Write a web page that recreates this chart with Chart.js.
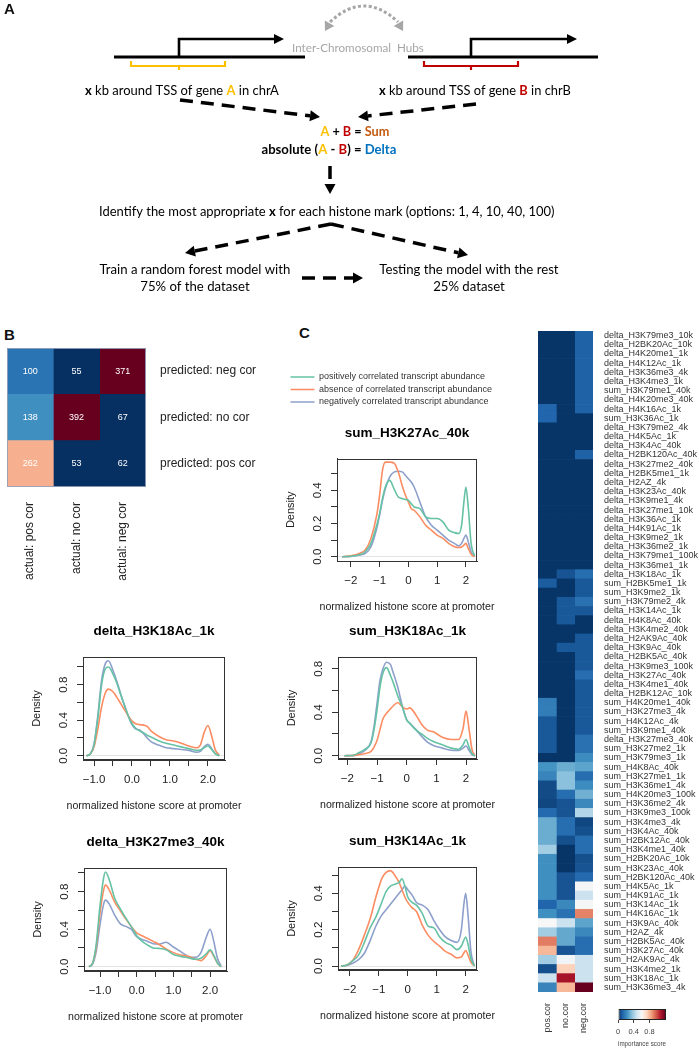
<!DOCTYPE html>
<html>
<head>
<meta charset="utf-8">
<title>Inter-chromosomal hubs - histone marks</title>
<script src="https://cdn.jsdelivr.net/npm/chart.js@4.4.1/dist/chart.umd.min.js"></script>
<style>
  body { margin: 0; background: #fff; }
  #page { position: relative; width: 699px; height: 1050px; overflow: hidden; background: #fff; }
  canvas { position: absolute; }
  .tag { position: absolute; font: bold 15px Arial, "Liberation Sans", sans-serif; color: #111; }
</style>
</head>
<body>
<div id="page">
  <canvas id="flow" width="699" height="300" style="left:0;top:0;width:699px;height:300px"></canvas>
  <div class="tag" style="left:4px;top:0px">A</div>
  <div class="tag" style="left:4px;top:326px">B</div>
  <div class="tag" style="left:299px;top:324px">C</div>
</div>
<script>
// ---------- data ----------
// confusion matrix (rows = predicted, columns = actual)
const cmPredicted = ['predicted: neg cor', 'predicted: no cor', 'predicted: pos cor'];
const cmActual = ['actual: pos cor', 'actual: no cor', 'actual: neg cor'];
const cmActualPos = [100, 138, 262];
const cmActualNo = [55, 392, 53];
const cmActualNeg = [371, 67, 62];

const legendLabels = ['positively correlated transcript abundance', 'absence of correlated transcript abundance', 'negatively correlated transcript abundance'];
const xAxisLabel = 'normalized histone score at promoter';

// delta_H3K18Ac_1k
const d1X = [-1.2,-1.1,-1.0,-0.9,-0.8,-0.7,-0.62,-0.5,-0.4,-0.3,-0.2,-0.1,0,0.1,0.2,0.3,0.4,0.5,0.7,0.9,1.1,1.3,1.5,1.7,1.8,1.9,2.0,2.1,2.2,2.3];
const d1Pos = [0,0.02,0.12,0.42,0.80,0.98,1.00,0.92,0.82,0.69,0.57,0.45,0.36,0.31,0.28,0.26,0.23,0.21,0.17,0.14,0.12,0.10,0.08,0.06,0.065,0.09,0.11,0.07,0.02,0];
const d1Abs = [0,0.02,0.10,0.30,0.55,0.71,0.75,0.72,0.66,0.59,0.52,0.45,0.39,0.36,0.35,0.345,0.33,0.28,0.22,0.18,0.165,0.14,0.11,0.09,0.12,0.26,0.34,0.22,0.06,0.01];
const d1Neg = [0,0.02,0.13,0.45,0.85,1.04,1.07,0.96,0.84,0.70,0.57,0.45,0.35,0.30,0.29,0.25,0.20,0.16,0.12,0.09,0.08,0.07,0.06,0.04,0.05,0.10,0.13,0.08,0.02,0];

// delta_H3K27me3_40k
const d2X = [-1.3,-1.2,-1.1,-1.0,-0.9,-0.85,-0.75,-0.6,-0.45,-0.3,-0.15,0,0.15,0.3,0.45,0.6,0.8,1.0,1.2,1.4,1.6,1.75,1.9,2.0,2.1,2.2,2.3];
const d2Pos = [0,0.04,0.25,0.65,0.95,1.01,0.93,0.73,0.62,0.52,0.43,0.33,0.27,0.23,0.20,0.195,0.18,0.13,0.11,0.095,0.08,0.09,0.14,0.18,0.12,0.04,0];
const d2Abs = [0,0.04,0.22,0.57,0.82,0.87,0.82,0.69,0.60,0.51,0.43,0.36,0.33,0.30,0.27,0.24,0.19,0.15,0.125,0.11,0.08,0.065,0.12,0.17,0.11,0.04,0];
const d2Neg = [0,0.03,0.17,0.45,0.67,0.71,0.67,0.55,0.46,0.43,0.40,0.32,0.29,0.27,0.245,0.24,0.26,0.21,0.16,0.11,0.10,0.15,0.32,0.40,0.27,0.09,0.01];

// sum_H3K27Ac_40k
const d3X = [-2.3,-2.0,-1.7,-1.5,-1.3,-1.1,-1.0,-0.9,-0.8,-0.65,-0.5,-0.35,-0.2,-0.1,0,0.1,0.2,0.4,0.6,0.8,1.0,1.2,1.4,1.6,1.75,1.85,1.93,2.0,2.08,2.18,2.3];
const d3Pos = [0,0.003,0.012,0.03,0.08,0.19,0.26,0.35,0.42,0.46,0.41,0.36,0.35,0.345,0.34,0.32,0.30,0.29,0.24,0.23,0.23,0.21,0.16,0.145,0.14,0.19,0.33,0.42,0.30,0.08,0.005];
const d3Abs = [0,0.005,0.02,0.04,0.11,0.25,0.37,0.52,0.57,0.57,0.565,0.51,0.42,0.37,0.33,0.29,0.28,0.24,0.19,0.16,0.13,0.11,0.08,0.06,0.055,0.058,0.07,0.08,0.05,0.015,0];
const d3Neg = [0,0.002,0.01,0.02,0.06,0.17,0.25,0.34,0.41,0.48,0.51,0.515,0.51,0.49,0.47,0.45,0.42,0.33,0.24,0.19,0.16,0.13,0.10,0.08,0.065,0.08,0.11,0.13,0.09,0.03,0];

// sum_H3K18Ac_1k
const d4X = [-2.1,-1.8,-1.6,-1.4,-1.2,-1.1,-1.0,-0.9,-0.8,-0.68,-0.55,-0.45,-0.3,-0.15,0,0.1,0.3,0.5,0.7,0.9,1.2,1.5,1.75,1.9,2.0,2.1,2.2,2.3];
const d4Pos = [0,0.005,0.03,0.06,0.12,0.24,0.42,0.63,0.76,0.81,0.74,0.67,0.55,0.45,0.33,0.30,0.24,0.20,0.16,0.13,0.10,0.07,0.06,0.10,0.15,0.08,0.02,0];
const d4Abs = [0,0.003,0.01,0.02,0.04,0.08,0.14,0.24,0.34,0.39,0.43,0.46,0.49,0.45,0.43,0.44,0.38,0.29,0.235,0.22,0.17,0.15,0.15,0.25,0.41,0.25,0.06,0];
const d4Neg = [0,0,0.02,0.05,0.13,0.27,0.48,0.69,0.80,0.86,0.84,0.76,0.63,0.46,0.33,0.30,0.245,0.18,0.125,0.095,0.07,0.05,0.048,0.07,0.09,0.05,0.01,0];

// sum_H3K14Ac_1k
const d5X = [-2.3,-2.1,-1.9,-1.7,-1.5,-1.3,-1.1,-0.9,-0.75,-0.6,-0.45,-0.3,-0.2,-0.1,0,0.15,0.3,0.5,0.7,0.9,1.1,1.3,1.5,1.7,1.85,1.93,2.0,2.08,2.18,2.3];
const d5Pos = [0,0.005,0.03,0.06,0.13,0.21,0.27,0.35,0.41,0.44,0.45,0.46,0.48,0.44,0.38,0.35,0.335,0.29,0.22,0.21,0.16,0.13,0.115,0.09,0.11,0.14,0.16,0.12,0.04,0];
const d5Abs = [0,0.005,0.03,0.09,0.17,0.26,0.38,0.48,0.515,0.525,0.50,0.46,0.42,0.38,0.35,0.32,0.30,0.225,0.17,0.135,0.11,0.08,0.065,0.045,0.05,0.07,0.085,0.06,0.02,0];
const d5Neg = [0,0.003,0.015,0.035,0.07,0.14,0.22,0.28,0.31,0.34,0.37,0.40,0.42,0.44,0.42,0.39,0.35,0.335,0.31,0.25,0.20,0.16,0.14,0.13,0.2,0.33,0.40,0.28,0.08,0];

// tick labels
const bXTicks = [-1, -0.5, 0, 0.5, 1, 1.5, 2];
const bXLabels = ['\u22121.0', '', '0.0', '', '1.0', '', '2.0'];
const cXTicks = [-2, -1, 0, 1, 2];
const cXLabels = ['\u22122', '\u22121', '0', '1', '2'];
const yTicksBig = [0, 0.2, 0.4, 0.6, 0.8, 1.0];
const yLabelsBig = ['0.0', '', '0.4', '', '0.8', ''];
const yTicksSmall = [0, 0.1, 0.2, 0.3, 0.4, 0.5];
const yLabelsSmall = ['0.0', '', '0.2', '', '0.4', ''];

// importance heatmap
const hmCols = ['pos.cor', 'no.cor', 'neg.cor'];
const hmRows = [
  'delta_H3K79me3_10k','delta_H2BK20Ac_10k','delta_H4K20me1_1k','delta_H4K12Ac_1k','delta_H3K36me3_4k','delta_H3K4me3_1k',
  'sum_H3K79me1_40k','delta_H4K20me3_40k','delta_H4K16Ac_1k','sum_H3K36Ac_1k','delta_H3K79me2_4k','delta_H4K5Ac_1k',
  'delta_H3K4Ac_40k','delta_H2BK120Ac_40k','delta_H3K27me2_40k','delta_H2BK5me1_1k','delta_H2AZ_4k','delta_H3K23Ac_40k',
  'delta_H3K9me1_4k','delta_H3K27me1_10k','delta_H3K36Ac_1k','delta_H4K91Ac_1k','delta_H3K9me2_1k','delta_H3K36me2_1k',
  'delta_H3K79me1_100k','delta_H3K36me1_1k','delta_H3K18Ac_1k','sum_H2BK5me1_1k','sum_H3K9me2_1k','sum_H3K79me2_4k',
  'delta_H3K14Ac_1k','delta_H4K8Ac_40k','delta_H3K4me2_40k','delta_H2AK9Ac_40k','delta_H3K9Ac_40k','delta_H2BK5Ac_40k',
  'delta_H3K9me3_100k','delta_H3K27Ac_40k','delta_H3K4me1_40k','delta_H2BK12Ac_10k','sum_H4K20me1_40k','sum_H3K27me3_4k',
  'sum_H4K12Ac_4k','sum_H3K9me1_40k','delta_H3K27me3_40k','sum_H3K27me2_1k','sum_H3K79me3_1k','sum_H4K8Ac_40k',
  'sum_H3K27me1_1k','sum_H3K36me1_4k','sum_H4K20me3_100k','sum_H3K36me2_4k','sum_H3K9me3_100k','sum_H3K4me3_4k',
  'sum_H3K4Ac_40k','sum_H2BK12Ac_40k','sum_H3K4me1_40k','sum_H2BK20Ac_10k','sum_H3K23Ac_40k','sum_H2BK120Ac_40k',
  'sum_H4K5Ac_1k','sum_H4K91Ac_1k','sum_H3K14Ac_1k','sum_H4K16Ac_1k','sum_H3K9Ac_40k','sum_H2AZ_4k',
  'sum_H2BK5Ac_40k','sum_H3K27Ac_40k','sum_H2AK9Ac_4k','sum_H3K4me2_1k','sum_H3K18Ac_1k','sum_H3K36me3_4k'
];
const hmPos = [
  0.01,0.01,0.01,0.01,0.01,0.01,0.01,0.01,
  0.12,0.12,0.01,0.01,0.01,0.01,0.01,0.01,
  0.01,0.01,0.01,0.01,0.01,0.01,0.01,0.01,
  0.01,0.01,0.01,0.10,0.01,0.01,0.01,0.01,
  0.01,0.01,0.01,0.01,0.01,0.01,0.01,0.01,
  0.18,0.18,0.09,0.09,0.09,0.09,0.01,0.24,
  0.20,0.06,0.06,0.05,0.13,0.30,0.30,0.30,
  0.39,0.23,0.23,0.23,0.23,0.23,0.12,0.23,
  0.60,0.39,0.91,0.80,0.39,0.07,0.47,0.20
];
const hmNo = [
  0.01,0.01,0.01,0.01,0.01,0.01,0.01,0.01,
  0.01,0.01,0.01,0.01,0.01,0.01,0.01,0.01,
  0.01,0.01,0.01,0.01,0.01,0.01,0.01,0.01,
  0.01,0.01,0.08,0.01,0.01,0.09,0.09,0.09,
  0.01,0.01,0.09,0.01,0.01,0.01,0.01,0.01,
  0.01,0.01,0.01,0.01,0.01,0.01,0.01,0.30,
  0.35,0.35,0.14,0.08,0.08,0.14,0.14,0.07,
  0.01,0.01,0.01,0.08,0.08,0.08,0.21,0.15,
  0.47,0.29,0.29,0.08,0.58,0.74,1.10,0.80
];
const hmNeg = [
  0.11,0.11,0.11,0.11,0.11,0.11,0.11,0.11,
  0.11,0.01,0.01,0.01,0.01,0.11,0.01,0.01,
  0.01,0.01,0.01,0.01,0.01,0.01,0.01,0.01,
  0.01,0.01,0.14,0.09,0.09,0.15,0.09,0.01,
  0.01,0.09,0.09,0.09,0.09,0.14,0.09,0.09,
  0.09,0.09,0.09,0.09,0.15,0.15,0.22,0.28,
  0.14,0.22,0.31,0.21,0.42,0.05,0.07,0.14,
  0.14,0.07,0.08,0.13,0.59,0.47,0.59,0.90,
  0.28,0.21,0.14,0.14,0.47,0.47,0.47,1.20
];
const importanceMax = 1.2;
const barTicks = [0, 0.4, 0.8];
const barLabels = ['0', '0.4', '0.8'];

// ---------- helpers ----------
const RDBU = ['#053061','#2166ac','#4393c3','#92c5de','#d1e5f0','#f7f7f7','#fddbc7','#f4a582','#d6604d','#b2182b','#67001f'];
function hexRgb(h) { return [1, 3, 5].map(i => parseInt(h.slice(i, i + 2), 16)); }
function rdbu(t) {
  t = Math.max(0, Math.min(1, t));
  const p = t * (RDBU.length - 1);
  const i = Math.min(Math.floor(p), RDBU.length - 2);
  const f = p - i;
  const a = hexRgb(RDBU[i]), b = hexRgb(RDBU[i + 1]);
  return 'rgb(' + a.map((v, k) => Math.round(v + (b[k] - v) * f)).join(',') + ')';
}
// count -> colour position for the confusion matrix
const cmStopsV = [70, 100, 138, 262, 371];
const cmStopsT = [0, 0.13, 0.19, 0.68, 1.0];
function cmColor(v) {
  if (v <= cmStopsV[0]) return rdbu(0);
  for (let i = 1; i < cmStopsV.length; i++) {
    if (v <= cmStopsV[i]) {
      const f = (v - cmStopsV[i - 1]) / (cmStopsV[i] - cmStopsV[i - 1]);
      return rdbu(cmStopsT[i - 1] + f * (cmStopsT[i] - cmStopsT[i - 1]));
    }
  }
  return rdbu(1);
}

function makeCanvas(left, top, w, h) {
  const cv = document.createElement('canvas');
  cv.width = w; cv.height = h;
  cv.style.left = left + 'px'; cv.style.top = top + 'px';
  cv.style.width = w + 'px'; cv.style.height = h + 'px';
  document.getElementById('page').appendChild(cv);
  return cv;
}
function framePlugin(color) {
  return {
    id: 'frame',
    afterDraw(chart) {
      const a = chart.chartArea, c = chart.ctx;
      c.save();
      c.strokeStyle = color; c.lineWidth = 1;
      c.strokeRect(Math.round(a.left) + 0.5, Math.round(a.top) + 0.5, Math.round(a.right - a.left) - 1, Math.round(a.bottom - a.top) - 1);
      c.restore();
    }
  };
}
// R-style x label, allowed to run wider than the plot box
const xLabelPlugin = {
  id: 'xLabel',
  afterDraw(chart) {
    const a = chart.chartArea, c = chart.ctx;
    c.save();
    c.font = '10.6px Arial, "Liberation Sans", sans-serif';
    c.fillStyle = '#222'; c.textAlign = 'center'; c.textBaseline = 'middle';
    c.fillText(xAxisLabel, (a.left + a.right) / 2, a.bottom + 46);
    c.restore();
  }
};
// side label axes: no extra vertical room for the end labels
function fixedWidth(w) {
  return s => { s.width = w; s.paddingTop = 0; s.paddingBottom = 0; };
}

Chart.defaults.font.family = 'Arial, "Liberation Sans", Helvetica, sans-serif';
Chart.defaults.color = '#222';
Chart.defaults.animation = false;

// ---------- panel A : workflow ----------
(function drawFlow() {
  const c = document.getElementById('flow').getContext('2d');
  const F = 'Lato, "Open Sans", sans-serif';
  function head(x, y, a, len, hw, col) {
    c.save(); c.translate(x, y); c.rotate(a); c.fillStyle = col;
    c.beginPath(); c.moveTo(0, 0); c.lineTo(-len, -hw); c.lineTo(-len, hw); c.closePath(); c.fill(); c.restore();
  }
  function dashArrow(x1, y1, x2, y2) {
    const a = Math.atan2(y2 - y1, x2 - x1), hl = 10;
    c.save(); c.strokeStyle = '#000'; c.lineWidth = 3.5; c.setLineDash([13, 8]);
    c.beginPath(); c.moveTo(x1, y1); c.lineTo(x2 - hl * Math.cos(a), y2 - hl * Math.sin(a)); c.stroke(); c.restore();
    head(x2, y2, a, hl, 5.5, '#000');
  }
  function bracket(x1, x2, xm, col) {
    c.save(); c.strokeStyle = col; c.lineWidth = 2.2;
    c.beginPath(); c.moveTo(x1, 61); c.lineTo(x1, 66); c.lineTo(x2, 66); c.lineTo(x2, 61);
    c.moveTo(xm, 66); c.lineTo(xm, 70); c.stroke(); c.restore();
  }
  function rich(segs, cx, cy, width, size) {
    let total = 0;
    segs.forEach(s => { c.font = (s.b ? 'bold ' : '') + '20px ' + F; total += c.measureText(s.t).width; });
    const px = size || 20 * width / total;
    const w = total * px / 20;
    let x = cx - w / 2;
    c.textBaseline = 'middle'; c.textAlign = 'left';
    segs.forEach(s => {
      c.font = (s.b ? 'bold ' : '') + px + 'px ' + F;
      c.fillStyle = s.c || '#000';
      c.fillText(s.t, x, cy);
      x += c.measureText(s.t).width;
    });
    return px;
  }
  // chromosomes
  c.strokeStyle = '#000'; c.lineWidth = 3;
  c.beginPath(); c.moveTo(114, 57); c.lineTo(305, 57); c.moveTo(408, 57); c.lineTo(598, 57); c.stroke();
  // TSS arrows
  c.lineWidth = 2.6;
  c.beginPath(); c.moveTo(179, 57); c.lineTo(179, 39); c.lineTo(275, 39);
  c.moveTo(471, 57); c.lineTo(471, 39); c.lineTo(568, 39); c.stroke();
  head(284, 39, 0, 10, 5, '#000');
  head(577, 39, 0, 10, 5, '#000');
  bracket(131, 225, 179, '#ffc000');
  bracket(424, 518, 471, '#c00000');
  // hub arrow
  c.save(); c.strokeStyle = '#a6a6a6'; c.lineWidth = 3; c.setLineDash([3, 2.4]);
  c.beginPath(); c.moveTo(330, 22); c.quadraticCurveTo(364, -10, 398, 22); c.stroke(); c.restore();
  head(325, 31, 2.1, 9, 5.5, '#a6a6a6');
  head(403, 31, 1.04, 9, 5.5, '#a6a6a6');
  rich([{ t: 'Inter-Chromosomal  Hubs', c: '#a6a6a6' }], 358, 48, 132);
  rich([{ t: 'x', b: 1 }, { t: ' kb around TSS of gene ' }, { t: 'A', b: 1, c: '#ffc000' }, { t: ' in chrA' }], 182, 91, 194);
  rich([{ t: 'x', b: 1 }, { t: ' kb around TSS of gene ' }, { t: 'B', b: 1, c: '#c00000' }, { t: ' in chrB' }], 475, 91, 192);
  dashArrow(180, 100, 320, 117);
  dashArrow(476, 104, 358, 117);
  rich([{ t: 'A', b: 1, c: '#ffc000' }, { t: ' + ', b: 1 }, { t: 'B', b: 1, c: '#c00000' }, { t: ' = ', b: 1 }, { t: 'Sum', b: 1, c: '#c55a11' }], 355, 132, 69);
  rich([{ t: 'absolute (', b: 1 }, { t: 'A', b: 1, c: '#ffc000' }, { t: ' - ', b: 1 }, { t: 'B', b: 1, c: '#c00000' }, { t: ') = ', b: 1 }, { t: 'Delta', b: 1, c: '#0070c0' }], 329, 150, 135);
  dashArrow(330, 166, 330, 194);
  rich([{ t: 'Identify the most appropriate ' }, { t: 'x', b: 1 }, { t: ' for each histone mark (options: 1, 4, 10, 40, 100)' }], 327, 212, 456);
  dashArrow(331, 224, 185, 253);
  dashArrow(331, 224, 468, 255);
  const s1 = rich([{ t: 'Train a random forest model with' }], 195, 270, 191);
  rich([{ t: '75% of the dataset' }], 195, 287, 0, s1);
  dashArrow(302, 278, 363, 278);
  rich([{ t: 'Testing the model with the rest' }], 469, 270, 0, s1);
  rich([{ t: '25% dataset' }], 469, 287, 0, s1);
})();

// ---------- panel B : confusion matrix ----------
const cmCounts = [cmActualPos, cmActualNo, cmActualNeg];
const cellText = {
  id: 'cellText',
  afterDatasetsDraw(chart) {
    const c = chart.ctx;
    c.save();
    c.font = '9px Arial, "Liberation Sans", sans-serif';
    c.fillStyle = '#fff'; c.textAlign = 'center'; c.textBaseline = 'middle';
    chart.data.datasets.forEach((ds, j) => {
      chart.getDatasetMeta(j).data.forEach((bar, i) => {
        c.fillText(String(cmCounts[j][i]), (bar.x + bar.base) / 2, bar.y);
      });
    });
    c.restore();
  }
};
new Chart(makeCanvas(0, 340, 280, 247), {
  type: 'bar',
  data: {
    labels: cmPredicted,
    datasets: cmCounts.map((counts, j) => ({
      label: cmActual[j],
      data: counts.map(() => 1),
      backgroundColor: counts.map(cmColor),
      borderWidth: 0, barPercentage: 1, categoryPercentage: 1
    }))
  },
  options: {
    indexAxis: 'y', responsive: false, events: [],
    layout: { padding: { left: 7, top: 8, right: 0, bottom: 0 } },
    scales: {
      x: {
        type: 'linear', stacked: true, min: 0, max: 3, position: 'bottom',
        afterFit: s => { s.height = 100; },
        afterBuildTicks: s => { s.ticks = cmActual.map((_, j) => ({ value: j + 0.5 })); },
        ticks: { autoSkip: false, minRotation: 90, maxRotation: 90, padding: 15, font: { size: 12 }, color: '#222', callback: v => cmActual[Math.floor(v)] },
        grid: { display: false, drawTicks: false }, border: { display: false }
      },
      y: {
        stacked: true, position: 'right',
        afterFit: fixedWidth(134),
        ticks: { padding: 14, font: { size: 12 }, color: '#222' },
        grid: { display: false, drawTicks: false }, border: { display: false }
      }
    },
    plugins: { legend: { display: false }, tooltip: { enabled: false } }
  },
  plugins: [cellText, framePlugin('rgba(150,160,185,0.9)')]
});

// ---------- density plots ----------
function densityPlot(cfg) {
  const [l, t, r, b] = cfg.box;
  const hasLegend = !!cfg.legend;
  const padLeft = hasLegend ? 12 : 0;
  const rightRoom = 28;
  const left = l - 62;
  const top = hasLegend ? 360 : t - 38;
  const cv = makeCanvas(left, top, r - left + rightRoom, b - top + 60);
  const series = [[cfg.pos, '#66c2a5'], [cfg.abs, '#fc8d62'], [cfg.neg, '#8da0cb']];
  const scales = {
    x: {
      type: 'linear', min: cfg.xr[0], max: cfg.xr[1],
      afterFit: s => { s.height = 60; },
      afterBuildTicks: s => { s.ticks = cfg.xTicks.map(v => ({ value: v })); },
      ticks: { autoSkip: false, maxRotation: 0, padding: 7, font: { size: 11.5 }, color: '#222', callback: (v, i) => cfg.xLabels[i] },
      grid: { drawOnChartArea: false, tickColor: '#333', tickLength: 6 },
      border: { color: '#333' }
    },
    y: {
      type: 'linear', min: cfg.yr[0], max: cfg.yr[1],
      afterFit: s => { s.width = 62 - padLeft; },
      afterBuildTicks: s => { s.ticks = cfg.yTicks.map(v => ({ value: v })); },
      ticks: { autoSkip: false, minRotation: 90, maxRotation: 90, crossAlign: 'center', padding: 5.5, font: { size: 11.5 }, color: '#222', callback: (v, i) => cfg.yLabels[i] },
      grid: { drawOnChartArea: true, color: c => (c.tick && c.tick.value === 0 ? '#e4e4e4' : 'rgba(0,0,0,0)'), tickColor: '#333', tickLength: 6 },
      border: { color: '#333' },
      title: { display: true, text: 'Density', font: { size: 11 }, color: '#222', padding: { top: 9.4 - padLeft, bottom: 0 } }
    }
  };
  if (hasLegend) {
    // empty right-hand spacer so the full-width legend can run past the plot box
    scales.spacer = {
      type: 'linear', axis: 'y', position: 'right', display: true,
      afterFit: s => { s.width = rightRoom - 2; },
      ticks: { display: false }, grid: { display: false, drawTicks: false }, border: { display: false }
    };
  }
  return new Chart(cv, {
    type: 'line',
    data: {
      datasets: series.map(([ys, col], k) => ({
        label: legendLabels[k],
        data: cfg.x.map((x, i) => ({ x, y: ys[i] })),
        borderColor: col, backgroundColor: col, borderWidth: 1.6,
        pointRadius: 0, cubicInterpolationMode: 'monotone', fill: false
      }))
    },
    options: {
      responsive: false, events: [],
      layout: { padding: { left: padLeft, right: hasLegend ? 2 : rightRoom, top: hasLegend ? 9 : 0, bottom: 0 } },
      scales,
      plugins: {
        tooltip: { enabled: false },
        title: { display: true, text: cfg.title, fullSize: false, color: '#000', font: { size: 13.5, weight: 'bold' }, padding: { top: hasLegend ? 8.4 : 4.4, bottom: 17.4 } },
        legend: hasLegend ? {
          display: true, position: 'top', align: 'start', fullSize: true, weight: 3000,
          labels: { usePointStyle: true, pointStyle: 'line', pointStyleWidth: 24, padding: 3.5, font: { size: 9 }, color: '#333' }
        } : { display: false }
      }
    },
    plugins: [framePlugin('#333'), xLabelPlugin]
  });
}

densityPlot({ title: 'delta_H3K18Ac_1k', box: [83, 657, 225, 760], x: d1X, pos: d1Pos, abs: d1Abs, neg: d1Neg,
  xr: [-1.29, 2.45], yr: [-0.048, 1.112], xTicks: bXTicks, xLabels: bXLabels, yTicks: yTicksBig, yLabels: yLabelsBig });
densityPlot({ title: 'delta_H3K27me3_40k', box: [84, 868, 227, 971], x: d2X, pos: d2Pos, abs: d2Abs, neg: d2Neg,
  xr: [-1.436, 2.46], yr: [-0.046, 1.053], xTicks: bXTicks, xLabels: bXLabels, yTicks: yTicksBig, yLabels: yLabelsBig });
densityPlot({ title: 'sum_H3K27Ac_40k', box: [337, 458, 477, 561], x: d3X, pos: d3Pos, abs: d3Abs, neg: d3Neg, legend: true,
  xr: [-2.48, 2.385], yr: [-0.026, 0.592], xTicks: cXTicks, xLabels: cXLabels, yTicks: yTicksSmall, yLabels: yLabelsSmall });
densityPlot({ title: 'sum_H3K18Ac_1k', box: [338, 657, 477, 759], x: d4X, pos: d4Pos, abs: d4Abs, neg: d4Neg,
  xr: [-2.315, 2.37], yr: [-0.03, 0.908], xTicks: cXTicks, xLabels: cXLabels, yTicks: yTicksBig.slice(0, 5), yLabels: yLabelsBig.slice(0, 5) });
densityPlot({ title: 'sum_H3K14Ac_1k', box: [338, 867, 477, 970], x: d5X, pos: d5Pos, abs: d5Abs, neg: d5Neg,
  xr: [-2.41, 2.39], yr: [-0.022, 0.545], xTicks: cXTicks, xLabels: cXLabels, yTicks: yTicksSmall, yLabels: yLabelsSmall });

// ---------- importance heatmap ----------
const hmValues = [hmPos, hmNo, hmNeg];
new Chart(makeCanvas(530, 320, 169, 717), {
  type: 'bar',
  data: {
    labels: hmRows,
    datasets: hmValues.map((vals, j) => ({
      label: hmCols[j],
      data: vals.map(() => 1),
      backgroundColor: vals.map(v => rdbu(v / importanceMax)),
      borderWidth: 0, barPercentage: 1, categoryPercentage: 1
    }))
  },
  options: {
    indexAxis: 'y', responsive: false, events: [],
    layout: { padding: { left: 8, top: 11, right: 0, bottom: 0 } },
    scales: {
      x: {
        type: 'linear', stacked: true, min: 0, max: 3,
        afterFit: s => { s.height = 45; },
        afterBuildTicks: s => { s.ticks = hmCols.map((_, j) => ({ value: j + 0.5 })); },
        ticks: { autoSkip: false, minRotation: 90, maxRotation: 90, padding: 11, font: { size: 9 }, color: '#333', callback: v => hmCols[Math.floor(v)] },
        grid: { display: false, drawTicks: false }, border: { display: false }
      },
      y: {
        stacked: true, position: 'right',
        afterFit: fixedWidth(106),
        ticks: { autoSkip: false, padding: 11, font: { size: 9 }, color: '#333' },
        grid: { display: false, drawTicks: false }, border: { display: false }
      }
    },
    plugins: { legend: { display: false }, tooltip: { enabled: false } }
  }
});

// colour key
new Chart(makeCanvas(608, 1000, 66, 50), {
  type: 'bar',
  data: {
    labels: ['importance'],
    datasets: [{
      data: [[0, 1.22]],
      backgroundColor: ctx => {
        const a = ctx.chart.chartArea;
        if (!a) return '#fff';
        const g = ctx.chart.ctx.createLinearGradient(a.left, 0, a.right, 0);
        RDBU.forEach((col, i) => g.addColorStop(Math.min(1, (i / (RDBU.length - 1)) * importanceMax / 1.22), col));
        return g;
      },
      borderColor: '#222', borderWidth: 1, borderSkipped: false, inflateAmount: 0,
      barPercentage: 1, categoryPercentage: 1
    }]
  },
  options: {
    indexAxis: 'y', responsive: false, events: [],
    layout: { padding: { left: 10, right: 8, top: 9, bottom: 0 } },
    scales: {
      x: {
        type: 'linear', min: 0, max: 1.22,
        afterFit: s => { s.height = 30; },
        afterBuildTicks: s => { s.ticks = barTicks.map(v => ({ value: v })); },
        ticks: { autoSkip: false, maxRotation: 0, padding: 4.5, font: { size: 7.5 }, color: '#444', callback: (v, i) => barLabels[i] },
        grid: { drawOnChartArea: false, tickLength: 3, tickColor: '#444' },
        border: { display: false },
        title: { display: true, text: 'importance score', font: { size: 7.5 }, color: '#444', padding: { top: 0, bottom: 1.5 } }
      },
      y: { display: false }
    },
    plugins: { legend: { display: false }, tooltip: { enabled: false } }
  }
});
</script>
</body>
</html>
